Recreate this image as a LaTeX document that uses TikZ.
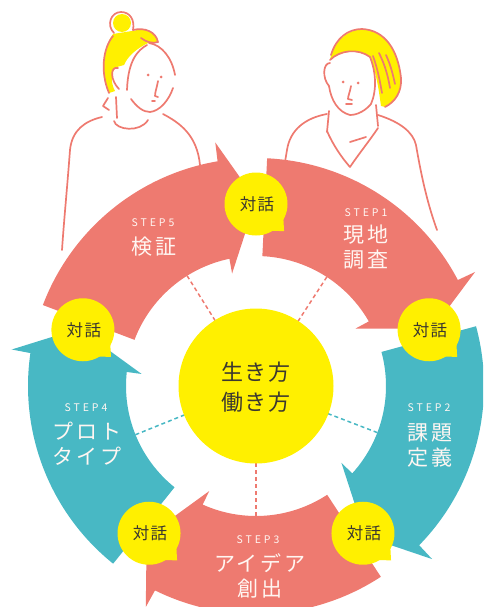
\documentclass[tikz,border=0pt]{standalone}
\usepackage{fontspec}
\newfontfamily\jp{Noto Sans CJK JP}
\newfontfamily\jpwide{Noto Sans CJK JP}[LetterSpace=14]
\newfontfamily\jpmid{Noto Sans CJK JP}[LetterSpace=8]
\newfontfamily\stepfont{Noto Sans CJK JP}[LetterSpace=28]
\definecolor{coral}{HTML}{EE7A70}
\definecolor{stepteal}{HTML}{48B8C4}
\definecolor{sun}{HTML}{FFF000}
\definecolor{ink}{HTML}{3B3830}
\definecolor{paper}{HTML}{FFF6F2}
\tikzset{
  sketch/.style={draw=coral, line width=1.7pt, line cap=round, line join=round},
  hair/.style={fill=sun},
  steptag/.style={text=paper, font=\stepfont\fontsize{10.5}{12}\selectfont, inner sep=0pt},
  steptitle/.style={text=paper, font=\jpwide\fontsize{21}{25}\selectfont, align=center, inner sep=0pt},
  talk/.style={text=ink, font=\jpmid\fontsize{16.5}{18}\selectfont, inner sep=0pt},
  core/.style={text=ink, font=\jpmid\fontsize{22}{30}\selectfont, align=center, inner sep=0pt},
  link/.style={line width=1.5pt, dash pattern=on 4pt off 3pt}
}
\begin{document}
\begin{tikzpicture}[x=1pt, y=-1pt]
\useasboundingbox (0,0) rectangle (483,607);
\clip (0,0) rectangle (483,607);

% ---- left person ----
\fill[hair] (122,23) circle[radius=9pt];
\fill[hair] (133,31) .. controls (145,27) and (156,32) .. (158,42) .. controls (150,45) and (140,40) .. (133,33) -- cycle;
\fill[hair] (113,34) .. controls (103,48) and (100,72) .. (109,93) -- (115,91)
  .. controls (110,82) and (111,70) .. (117,67) -- (124,65)
  .. controls (128,56) and (136,49) .. (148,43) -- (150,40)
  .. controls (144,34) and (138,31) .. (132,31) -- cycle;
\draw[sketch] (114,33) .. controls (106,25) and (111,12) .. (121,12) .. controls (130,12) and (135,20) .. (133,30);
\draw[sketch] (133,30) .. controls (145,27) and (156,32) .. (158,42) .. controls (153,44) and (146,42) .. (141,38);
\draw[sketch] (113,36) .. controls (103,48) and (100,72) .. (109,93);
\draw[sketch] (149,43) .. controls (162,45) and (172,58) .. (175,75);
\draw[sketch] (147,45) .. controls (138,50) and (128,60) .. (127,90);
\draw[sketch] (118,68) .. controls (110,66) and (110,80) .. (119,89);
\draw[sketch] (131,99) .. controls (137,107) and (143,112) .. (150,112) .. controls (160,111) and (169,100) .. (173,88);
\fill[coral] (148,75) circle[radius=1.5pt];
\fill[coral] (161,77) circle[radius=1.5pt];
\draw[sketch] (158,81) .. controls (157,87) and (155,92) .. (155,96) -- (158,97);
\draw[sketch] (152,101) -- (155,101);
\draw[sketch] (116,97) -- (117,118);
\draw[sketch] (108,98) -- (103,106) -- (109,110);
\draw[sketch] (114,121) .. controls (116,130) and (140,133) .. (148,120);
\draw[sketch] (102,117) .. controls (85,121) and (72,130) .. (70,150) .. controls (67,190) and (64,220) .. (62,250);
\draw[sketch] (163,114) .. controls (180,123) and (197,135) .. (200,165);

% ---- right person ----
\fill[hair] (330,60) .. controls (333,42) and (347,30) .. (362,29) .. controls (385,30) and (398,50) .. (401,78)
  .. controls (402,92) and (395,102) .. (385,107) -- (381,106)
  .. controls (379,92) and (377,75) .. (370,57) .. controls (358,49) and (342,50) .. (330,60) -- cycle;
\draw[sketch] (331,55) .. controls (336,38) and (348,29) .. (362,29) .. controls (385,30) and (398,50) .. (401,78) .. controls (402,92) and (395,102) .. (385,107);
\draw[sketch] (330,60) .. controls (340,50) and (358,48) .. (370,57);
\draw[sketch] (373,56) .. controls (378,70) and (380,82) .. (382,93);
\draw[sketch] (379,53) .. controls (385,65) and (388,76) .. (390,88);
\draw[sketch] (386,55) .. controls (391,66) and (393,75) .. (395,84);
\draw[sketch] (370,57) .. controls (376,72) and (377,90) .. (371,104);
\draw[sketch] (330,63) .. controls (323,63) and (322,78) .. (329,86);
\draw[sketch] (329,86) .. controls (331,100) and (338,112) .. (350,115) .. controls (358,115) and (366,110) .. (371,104);
\fill[coral] (343,82) circle[radius=1.5pt];
\fill[coral] (358,83) circle[radius=1.5pt];
\draw[sketch] (351,86) .. controls (350,92) and (348,96) .. (348,99) -- (352,100);
\draw[sketch] (346,104) -- (352,104);
\draw[sketch] (329,111) -- (327,132);
\draw[sketch] (376,105) -- (378,126);
\draw[sketch] (327,131) .. controls (333,145) and (342,158) .. (350,167) .. controls (358,155) and (370,140) .. (378,128);
\draw[sketch] (350,142) -- (366,137);
\draw[sketch] (327,114) .. controls (305,118) and (290,130) .. (287,150) -- (285,162);
\draw[sketch] (378,115) .. controls (400,122) and (413,132) .. (416,145) .. controls (422,180) and (428,205) .. (437,230);

% ---- cycle of five steps ----
\begin{scope}[shift={(256,386)}]
  \foreach \b/\c in {90/coral,18/stepteal,-54/coral,-126/stepteal,162/coral}{
    \pgfmathsetmacro\t{\b-2.8}
    \pgfmathsetmacro\n{\b-72}
    \pgfmathsetmacro\eo{\n+9.7}
    \pgfmathsetmacro\bo{\n+9.5}
    \pgfmathsetmacro\bi{\n+12}
    \pgfmathsetmacro\ei{\n+11.8}
    \fill[\c] (\t:228pt) arc[start angle=\t, end angle=\eo, radius=228pt]
      -- (\bo:247pt) -- (\n:186pt) -- (\bi:115pt) -- (\ei:130pt)
      arc[start angle=\ei, end angle=\t, radius=130pt] -- cycle;
  }
  \foreach \a/\c in {122/coral,57/coral,-21/stepteal,-90/coral,-158/stepteal}
    \draw[link, draw=\c] (\a:77pt) -- (\a:131pt);
  \fill[sun] (0,0) circle[radius=77.5pt];
  \node[core] (hub) at (0,1) {生き方\\働き方};
  \foreach \b [count=\i] in {90,18,-54,-126,162}{
    \begin{scope}[shift={(\b:182pt)}]
      \fill[sun] (0,0) circle[radius=31.5pt];
      \fill[sun] (-28:31pt) -- (-44:39pt) -- (-60:31pt) -- cycle;
      \node[talk] (talk\i) at (1,0) {対話};
    \end{scope}
  }
\end{scope}

% ---- step labels ----
\node[steptag] (tag5) at (153,223) {STEP5};
\node[steptitle] (title5) at (154,247) {検証};
\node[steptag] (tag1) at (366,213) {STEP1};
\node[steptitle] (title1) at (366,247.5) {現地\\調査};
\node[steptag] (tag2) at (429,408) {STEP2};
\node[steptitle] (title2) at (430,445) {課題\\定義};
\node[steptag] (tag3) at (258,540) {STEP3};
\node[steptitle] (title3) at (260,576) {アイデア\\創出};
\node[steptag] (tag4) at (86,408) {STEP4};
\node[steptitle] (title4) at (87,443.5) {プロト\\タイプ};
\end{tikzpicture}
\end{document}
